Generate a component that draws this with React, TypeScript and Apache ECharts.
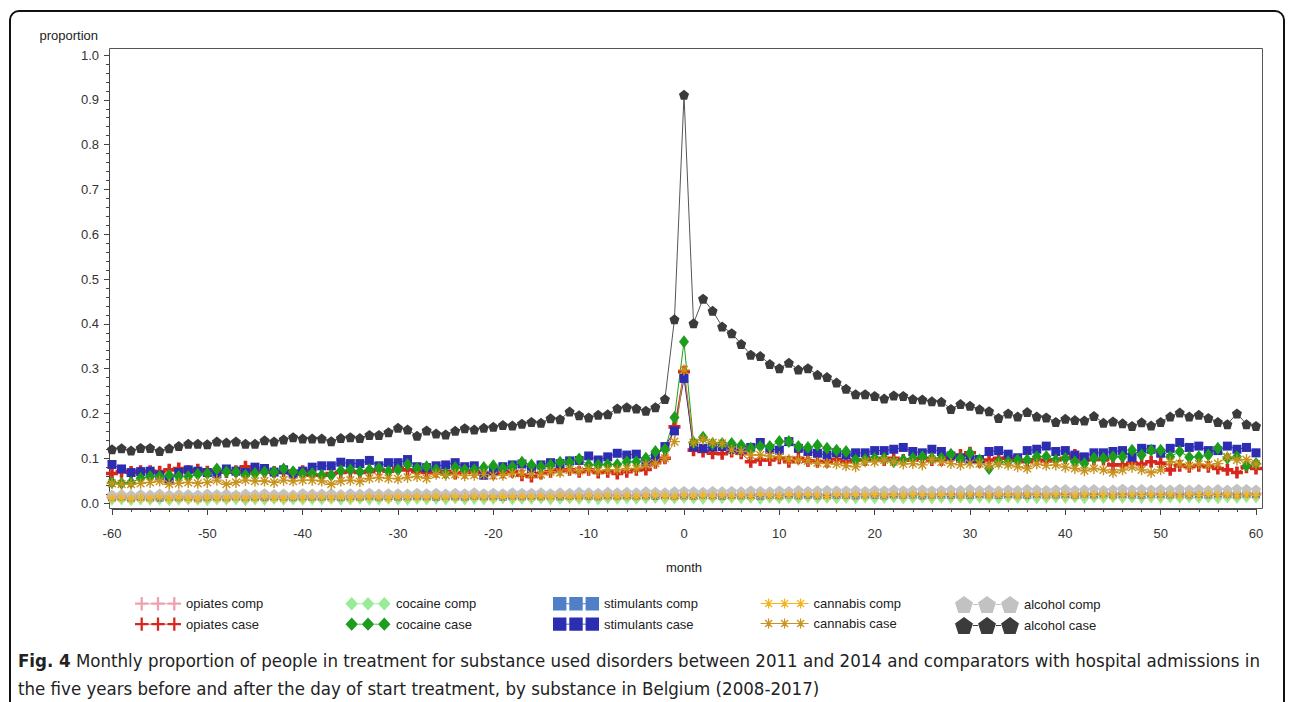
import React, { useEffect, useRef } from 'react';
import * as echarts from 'echarts';

const MONTHS = [
  -60, -59, -58, -57, -56, -55, -54, -53, -52, -51, -50,
  -49, -48, -47, -46, -45, -44, -43, -42, -41, -40, -39,
  -38, -37, -36, -35, -34, -33, -32, -31, -30, -29, -28,
  -27, -26, -25, -24, -23, -22, -21, -20, -19, -18, -17,
  -16, -15, -14, -13, -12, -11, -10, -9, -8, -7, -6,
  -5, -4, -3, -2, -1, 0, 1, 2, 3, 4, 5,
  6, 7, 8, 9, 10, 11, 12, 13, 14, 15, 16,
  17, 18, 19, 20, 21, 22, 23, 24, 25, 26, 27,
  28, 29, 30, 31, 32, 33, 34, 35, 36, 37, 38,
  39, 40, 41, 42, 43, 44, 45, 46, 47, 48, 49,
  50, 51, 52, 53, 54, 55, 56, 57, 58, 59, 60,
];

const X_TICKS = [-60, -50, -40, -30, -20, -10, 0, 10, 20, 30, 40, 50, 60];
const Y_TICKS = [0, 0.1, 0.2, 0.3, 0.4, 0.5, 0.6, 0.7, 0.8, 0.9, 1.0];

const OPI_COMP = [
  0.014, 0.013, 0.015, 0.014, 0.013, 0.015, 0.014, 0.015, 0.013, 0.014, 0.015,
  0.014, 0.015, 0.013, 0.015, 0.014, 0.016, 0.014, 0.015, 0.014, 0.016, 0.015,
  0.015, 0.016, 0.014, 0.015, 0.016, 0.015, 0.014, 0.016, 0.015, 0.016, 0.015,
  0.016, 0.015, 0.017, 0.015, 0.016, 0.017, 0.015, 0.016, 0.017, 0.016, 0.015,
  0.017, 0.016, 0.017, 0.016, 0.018, 0.016, 0.017, 0.016, 0.018, 0.017, 0.016,
  0.017, 0.018, 0.016, 0.018, 0.017, 0.018, 0.017, 0.019, 0.017, 0.018, 0.017,
  0.018, 0.017, 0.019, 0.018, 0.017, 0.019, 0.018, 0.019, 0.017, 0.018, 0.019,
  0.018, 0.019, 0.018, 0.020, 0.018, 0.019, 0.018, 0.020, 0.019, 0.018, 0.019,
  0.019, 0.018, 0.020, 0.019, 0.021, 0.019, 0.018, 0.020, 0.019, 0.020, 0.019,
  0.020, 0.019, 0.021, 0.019, 0.020, 0.019, 0.021, 0.020, 0.019, 0.021, 0.020,
  0.020, 0.021, 0.019, 0.020, 0.022, 0.020, 0.019, 0.021, 0.020, 0.019, 0.021,
];

const COC_COMP = [
  0.007, 0.008, 0.006, 0.008, 0.007, 0.008, 0.006, 0.007, 0.008, 0.007, 0.006,
  0.008, 0.007, 0.008, 0.006, 0.008, 0.007, 0.009, 0.007, 0.008, 0.007, 0.008,
  0.008, 0.009, 0.007, 0.008, 0.009, 0.007, 0.008, 0.009, 0.008, 0.007, 0.009,
  0.008, 0.009, 0.008, 0.010, 0.008, 0.009, 0.008, 0.009, 0.010, 0.008, 0.009,
  0.009, 0.010, 0.008, 0.009, 0.010, 0.009, 0.010, 0.008, 0.010, 0.009, 0.010,
  0.009, 0.010, 0.011, 0.009, 0.010, 0.011, 0.010, 0.009, 0.011, 0.010, 0.011,
  0.010, 0.011, 0.009, 0.011, 0.010, 0.011, 0.010, 0.012, 0.010, 0.011, 0.010,
  0.011, 0.010, 0.012, 0.010, 0.011, 0.012, 0.010, 0.011, 0.012, 0.010, 0.011,
  0.011, 0.012, 0.010, 0.012, 0.011, 0.010, 0.012, 0.011, 0.012, 0.010, 0.011,
  0.012, 0.011, 0.012, 0.010, 0.012, 0.011, 0.013, 0.011, 0.012, 0.011, 0.012,
  0.011, 0.012, 0.011, 0.013, 0.011, 0.012, 0.010, 0.012, 0.011, 0.013, 0.012,
];

const STIM_COMP = [
  0.013, 0.014, 0.012, 0.014, 0.013, 0.012, 0.014, 0.013, 0.014, 0.012, 0.013,
  0.014, 0.013, 0.015, 0.013, 0.014, 0.013, 0.015, 0.014, 0.013, 0.015, 0.014,
  0.014, 0.015, 0.013, 0.015, 0.014, 0.016, 0.014, 0.015, 0.014, 0.015, 0.016,
  0.015, 0.014, 0.016, 0.015, 0.014, 0.016, 0.015, 0.016, 0.014, 0.016, 0.015,
  0.016, 0.015, 0.017, 0.015, 0.016, 0.017, 0.016, 0.015, 0.017, 0.016, 0.017,
  0.016, 0.017, 0.016, 0.018, 0.016, 0.017, 0.016, 0.018, 0.017, 0.016, 0.018,
  0.017, 0.018, 0.016, 0.018, 0.017, 0.019, 0.017, 0.018, 0.017, 0.019, 0.018,
  0.018, 0.017, 0.019, 0.018, 0.017, 0.019, 0.018, 0.019, 0.017, 0.018, 0.019,
  0.018, 0.019, 0.018, 0.020, 0.019, 0.018, 0.020, 0.019, 0.018, 0.020, 0.019,
  0.019, 0.020, 0.018, 0.020, 0.019, 0.021, 0.019, 0.020, 0.019, 0.018, 0.020,
  0.020, 0.019, 0.021, 0.019, 0.020, 0.019, 0.021, 0.020, 0.019, 0.021, 0.020,
];

const CAN_COMP = [
  0.010, 0.011, 0.009, 0.011, 0.010, 0.012, 0.010, 0.011, 0.010, 0.009, 0.011,
  0.011, 0.010, 0.012, 0.010, 0.011, 0.012, 0.011, 0.010, 0.012, 0.011, 0.012,
  0.012, 0.011, 0.013, 0.011, 0.012, 0.013, 0.012, 0.011, 0.013, 0.012, 0.013,
  0.012, 0.014, 0.012, 0.013, 0.012, 0.014, 0.013, 0.012, 0.014, 0.013, 0.014,
  0.013, 0.014, 0.013, 0.015, 0.014, 0.013, 0.015, 0.014, 0.015, 0.014, 0.015,
  0.014, 0.015, 0.016, 0.015, 0.014, 0.016, 0.015, 0.016, 0.015, 0.016, 0.015,
  0.016, 0.015, 0.017, 0.016, 0.015, 0.017, 0.016, 0.017, 0.016, 0.015, 0.017,
  0.016, 0.017, 0.016, 0.018, 0.016, 0.017, 0.016, 0.018, 0.017, 0.016, 0.017,
  0.017, 0.016, 0.018, 0.017, 0.016, 0.018, 0.017, 0.016, 0.018, 0.017, 0.016,
  0.018, 0.017, 0.016, 0.018, 0.017, 0.018, 0.016, 0.017, 0.018, 0.017, 0.018,
  0.017, 0.018, 0.016, 0.018, 0.017, 0.019, 0.017, 0.018, 0.016, 0.018, 0.017,
];

const ALC_COMP = [
  0.019, 0.020, 0.018, 0.020, 0.019, 0.021, 0.019, 0.020, 0.020, 0.019, 0.021,
  0.020, 0.021, 0.019, 0.021, 0.020, 0.022, 0.020, 0.021, 0.019, 0.022, 0.021,
  0.021, 0.022, 0.020, 0.022, 0.021, 0.023, 0.021, 0.022, 0.022, 0.021, 0.023,
  0.022, 0.023, 0.021, 0.023, 0.022, 0.024, 0.022, 0.023, 0.022, 0.024, 0.023,
  0.023, 0.024, 0.022, 0.024, 0.023, 0.025, 0.024, 0.023, 0.025, 0.024, 0.025,
  0.024, 0.026, 0.025, 0.024, 0.026, 0.027, 0.026, 0.025, 0.027, 0.026, 0.027,
  0.026, 0.028, 0.027, 0.026, 0.028, 0.027, 0.029, 0.027, 0.028, 0.029, 0.028,
  0.028, 0.029, 0.027, 0.029, 0.028, 0.030, 0.028, 0.029, 0.030, 0.028, 0.029,
  0.030, 0.029, 0.031, 0.029, 0.030, 0.028, 0.030, 0.029, 0.031, 0.030, 0.029,
  0.030, 0.031, 0.029, 0.030, 0.031, 0.029, 0.030, 0.032, 0.030, 0.031, 0.030,
  0.031, 0.030, 0.032, 0.030, 0.031, 0.029, 0.031, 0.030, 0.032, 0.031, 0.030,
];

const OPI_CASE = [
  0.066, 0.070, 0.069, 0.071, 0.071, 0.070, 0.074, 0.077, 0.071, 0.074, 0.070,
  0.071, 0.069, 0.071, 0.081, 0.071, 0.070, 0.069, 0.071, 0.066, 0.071, 0.062,
  0.062, 0.066, 0.068, 0.070, 0.068, 0.070, 0.074, 0.071, 0.077, 0.074, 0.070,
  0.068, 0.070, 0.070, 0.066, 0.068, 0.070, 0.066, 0.066, 0.068, 0.070, 0.062,
  0.059, 0.066, 0.070, 0.074, 0.074, 0.070, 0.074, 0.068, 0.070, 0.066, 0.070,
  0.074, 0.075, 0.090, 0.100, 0.170, 0.293, 0.118, 0.115, 0.111, 0.110, 0.115,
  0.111, 0.092, 0.096, 0.096, 0.100, 0.092, 0.100, 0.094, 0.092, 0.092, 0.097,
  0.092, 0.096, 0.096, 0.100, 0.096, 0.100, 0.096, 0.096, 0.100, 0.096, 0.096,
  0.103, 0.107, 0.112, 0.092, 0.096, 0.100, 0.100, 0.096, 0.092, 0.096, 0.094,
  0.096, 0.100, 0.107, 0.096, 0.097, 0.097, 0.085, 0.085, 0.089, 0.087, 0.092,
  0.089, 0.074, 0.083, 0.081, 0.083, 0.081, 0.077, 0.074, 0.068, 0.080, 0.077,
];

const COC_CASE = [
  0.046, 0.044, 0.046, 0.055, 0.059, 0.059, 0.062, 0.059, 0.059, 0.064, 0.066,
  0.076, 0.070, 0.069, 0.062, 0.066, 0.069, 0.069, 0.076, 0.070, 0.066, 0.066,
  0.062, 0.062, 0.072, 0.074, 0.070, 0.074, 0.077, 0.071, 0.074, 0.086, 0.077,
  0.081, 0.074, 0.066, 0.079, 0.074, 0.074, 0.079, 0.083, 0.077, 0.081, 0.091,
  0.085, 0.081, 0.085, 0.091, 0.091, 0.098, 0.085, 0.085, 0.086, 0.086, 0.092,
  0.092, 0.100, 0.115, 0.120, 0.191, 0.360, 0.135, 0.147, 0.132, 0.133, 0.133,
  0.129, 0.122, 0.126, 0.126, 0.137, 0.137, 0.126, 0.124, 0.129, 0.122, 0.118,
  0.115, 0.096, 0.097, 0.100, 0.100, 0.092, 0.096, 0.100, 0.103, 0.100, 0.100,
  0.109, 0.100, 0.111, 0.096, 0.077, 0.092, 0.092, 0.096, 0.096, 0.103, 0.104,
  0.096, 0.100, 0.092, 0.088, 0.100, 0.100, 0.103, 0.103, 0.118, 0.107, 0.118,
  0.118, 0.103, 0.115, 0.102, 0.103, 0.107, 0.122, 0.100, 0.103, 0.083, 0.088,
];

const STIM_CASE = [
  0.086, 0.076, 0.068, 0.070, 0.071, 0.062, 0.054, 0.068, 0.074, 0.071, 0.068,
  0.065, 0.076, 0.071, 0.068, 0.080, 0.077, 0.069, 0.074, 0.065, 0.071, 0.080,
  0.083, 0.083, 0.091, 0.088, 0.088, 0.095, 0.083, 0.090, 0.090, 0.097, 0.081,
  0.079, 0.083, 0.085, 0.090, 0.081, 0.083, 0.062, 0.070, 0.081, 0.085, 0.087,
  0.077, 0.085, 0.090, 0.088, 0.094, 0.095, 0.105, 0.096, 0.103, 0.111, 0.107,
  0.109, 0.092, 0.103, 0.126, 0.161, 0.278, 0.125, 0.122, 0.125, 0.126, 0.120,
  0.118, 0.124, 0.135, 0.120, 0.118, 0.137, 0.122, 0.115, 0.111, 0.107, 0.112,
  0.107, 0.112, 0.112, 0.117, 0.117, 0.120, 0.124, 0.115, 0.112, 0.120, 0.115,
  0.105, 0.100, 0.098, 0.097, 0.115, 0.117, 0.109, 0.101, 0.117, 0.120, 0.127,
  0.115, 0.117, 0.107, 0.103, 0.112, 0.112, 0.115, 0.117, 0.102, 0.122, 0.120,
  0.111, 0.122, 0.135, 0.124, 0.127, 0.117, 0.117, 0.127, 0.120, 0.124, 0.112,
];

const CAN_CASE = [
  0.044, 0.042, 0.042, 0.044, 0.046, 0.049, 0.042, 0.044, 0.046, 0.044, 0.046,
  0.051, 0.042, 0.046, 0.051, 0.049, 0.049, 0.046, 0.051, 0.049, 0.051, 0.051,
  0.049, 0.042, 0.049, 0.051, 0.048, 0.055, 0.057, 0.055, 0.054, 0.057, 0.059,
  0.055, 0.064, 0.062, 0.064, 0.061, 0.062, 0.064, 0.061, 0.062, 0.066, 0.066,
  0.064, 0.064, 0.070, 0.068, 0.074, 0.072, 0.075, 0.072, 0.074, 0.074, 0.077,
  0.077, 0.085, 0.089, 0.100, 0.137, 0.297, 0.135, 0.142, 0.135, 0.133, 0.118,
  0.115, 0.107, 0.107, 0.105, 0.103, 0.097, 0.096, 0.094, 0.090, 0.088, 0.087,
  0.083, 0.081, 0.092, 0.092, 0.096, 0.092, 0.087, 0.088, 0.085, 0.097, 0.092,
  0.088, 0.085, 0.088, 0.088, 0.083, 0.087, 0.085, 0.081, 0.077, 0.087, 0.084,
  0.085, 0.080, 0.077, 0.072, 0.077, 0.074, 0.068, 0.074, 0.080, 0.074, 0.068,
  0.074, 0.092, 0.088, 0.083, 0.087, 0.085, 0.088, 0.103, 0.096, 0.097, 0.087,
];

const ALC_CASE = [
  0.120, 0.122, 0.117, 0.123, 0.123, 0.116, 0.122, 0.127, 0.132, 0.132, 0.131,
  0.137, 0.135, 0.137, 0.132, 0.132, 0.140, 0.137, 0.142, 0.147, 0.144, 0.144,
  0.144, 0.138, 0.145, 0.147, 0.145, 0.152, 0.152, 0.158, 0.168, 0.164, 0.150,
  0.162, 0.155, 0.153, 0.161, 0.167, 0.164, 0.168, 0.170, 0.174, 0.173, 0.177,
  0.181, 0.179, 0.189, 0.187, 0.204, 0.196, 0.191, 0.197, 0.198, 0.211, 0.214,
  0.211, 0.206, 0.214, 0.232, 0.410, 0.911, 0.401, 0.456, 0.429, 0.394, 0.379,
  0.355, 0.331, 0.328, 0.310, 0.301, 0.313, 0.298, 0.301, 0.286, 0.281, 0.269,
  0.255, 0.243, 0.243, 0.239, 0.233, 0.240, 0.239, 0.232, 0.231, 0.227, 0.226,
  0.210, 0.221, 0.217, 0.209, 0.205, 0.190, 0.200, 0.193, 0.203, 0.193, 0.191,
  0.181, 0.188, 0.185, 0.184, 0.194, 0.179, 0.182, 0.178, 0.172, 0.180, 0.173,
  0.181, 0.193, 0.202, 0.193, 0.197, 0.190, 0.181, 0.176, 0.200, 0.176, 0.172,
];

const FONT = "'Liberation Sans', Arial, Helvetica, sans-serif";
const CAPTION_FONT = "'Liberation Sans Narrow', 'DejaVu Sans Condensed', 'Liberation Sans', sans-serif";

const SYM_CROSS = 'path://M3.5,0H6.5V3.5H10V6.5H6.5V10H3.5V6.5H0V3.5H3.5Z';
const SYM_STAR = 'path://M5,0V10M0,5H10M1.5,1.5L8.5,8.5M8.5,1.5L1.5,8.5';
const SYM_PENT = 'path://M5,0L10,3.7L8.1,9.5H1.9L0,3.7Z';

const ICON_CROSS =
  'path://M5.8,0H8.2V5.8H14V8.2H8.2V14H5.8V8.2H0V5.8H5.8Z M22.8,0H25.2V5.8H31V8.2H25.2V14H22.8V8.2H17V5.8H22.8Z M39.8,0H42.2V5.8H48V8.2H42.2V14H39.8V8.2H34V5.8H39.8Z M14,6.5H17V7.5H14Z M31,6.5H34V7.5H31Z';
const ICON_DIAMOND =
  'path://M7,0L13.5,7L7,14L0.5,7Z M24,0L30.5,7L24,14L17.5,7Z M41,0L47.5,7L41,14L34.5,7Z M13.5,6.5H17.5V7.5H13.5Z M30.5,6.5H34.5V7.5H30.5Z M0,7H0.5V7H0Z M47.5,7H48V7H47.5Z';
const ICON_SQUARE =
  'path://M0,0H14V14H0Z M17,0H31V14H17Z M34,0H48V14H34Z M14,6.5H17V7.5H14Z M31,6.5H34V7.5H31Z';
const ICON_STAR =
  'path://M0,7H48 M8,2V12M3,7H13M4.5,3.5L11.5,10.5M11.5,3.5L4.5,10.5 M24,2V12M19,7H29M20.5,3.5L27.5,10.5M27.5,3.5L20.5,10.5 M40,2V12M35,7H45M36.5,3.5L43.5,10.5M43.5,3.5L36.5,10.5';
const ICON_PENT =
  'path://M9,0L18,6.5L14.6,17H3.4L0,6.5Z M32,0L41,6.5L37.6,17H26.4L23,6.5Z M55,0L64,6.5L60.6,17H49.4L46,6.5Z M18,8H23V9H18Z M41,8H46V9H41Z';

const COLORS = {
  opiComp: '#eea2ad',
  opiCase: '#d7261e',
  cocComp: '#98ec98',
  cocCase: '#1c9e1c',
  stimComp: '#4f7fc6',
  stimCase: '#2d2db2',
  canComp: '#f2b51e',
  canCase: '#c8921c',
  alcComp: '#c2c2c2',
  alcCase: '#3b3b3b',
};

function mk(
  name: string,
  values: number[],
  symbol: string,
  size: number | number[],
  color: string,
  z: number,
  lineColor?: string,
  border?: number,
) {
  return {
    name,
    type: 'line',
    data: MONTHS.map((m, i) => [m, values[i]]),
    symbol,
    symbolSize: size,
    showSymbol: true,
    lineStyle: { width: 1, color: lineColor || color },
    itemStyle: { color, borderColor: color, borderWidth: border || 0 },
    emphasis: { disabled: true },
    z,
    silent: true,
    animation: false,
  };
}

const legendText = { fontFamily: FONT, fontSize: 13, color: '#222' };

function legendBlock(left: number, top: number, width: number, height: number, gap: number, items: any[]) {
  return {
    orient: 'vertical',
    left,
    top,
    padding: 0,
    itemGap: gap,
    itemWidth: width,
    itemHeight: height,
    selectedMode: false,
    textStyle: legendText,
    data: items,
  };
}

export default function App() {
  const ref = useRef<HTMLDivElement>(null);

  useEffect(() => {
    if (!ref.current) return;
    const chart = echarts.init(ref.current, null, { renderer: 'svg' });

    const option: any = {
      animation: false,
      backgroundColor: '#ffffff',
      textStyle: { fontFamily: FONT },
      grid: { left: 112, right: 36, top: 55, bottom: 199, containLabel: false },
      xAxis: {
        type: 'value',
        min: X_TICKS[0],
        max: X_TICKS[X_TICKS.length - 1],
        interval: 10,
        offset: 6,
        name: 'month',
        nameLocation: 'middle',
        nameGap: 52,
        nameTextStyle: { fontFamily: FONT, fontSize: 13, color: '#222' },
        axisLine: { show: true, onZero: false, lineStyle: { color: '#444', width: 1 } },
        axisTick: { show: true, length: 6, lineStyle: { color: '#444' } },
        minorTick: { show: true, splitNumber: 5, length: 3, lineStyle: { color: '#444' } },
        axisLabel: { margin: 18, fontFamily: FONT, fontSize: 13, color: '#333' },
        splitLine: { show: false },
      },
      yAxis: {
        type: 'value',
        min: Y_TICKS[0],
        max: Y_TICKS[Y_TICKS.length - 1],
        interval: 0.1,
        offset: 3,
        name: 'proportion',
        nameLocation: 'end',
        nameGap: 13,
        nameTextStyle: { fontFamily: FONT, fontSize: 13, color: '#222', align: 'right', padding: [0, 11, 0, 0] },
        axisLine: { show: true, onZero: false, lineStyle: { color: '#444', width: 1 } },
        axisTick: { show: true, length: 5, lineStyle: { color: '#444' } },
        minorTick: { show: true, splitNumber: 5, length: 3, lineStyle: { color: '#444' } },
        axisLabel: {
          margin: 10,
          fontFamily: FONT,
          fontSize: 13,
          color: '#333',
          formatter: (v: number) => v.toFixed(1),
        },
        splitLine: { show: false },
      },
      legend: [
        legendBlock(135, 597, 46, 14, 7, [
          { name: 'opiates comp', icon: ICON_CROSS, itemStyle: { borderWidth: 0 } },
          { name: 'opiates case', icon: ICON_CROSS, itemStyle: { borderWidth: 0 } },
        ]),
        legendBlock(345, 597, 46, 14, 7, [
          { name: 'cocaine comp', icon: ICON_DIAMOND, itemStyle: { borderWidth: 0 } },
          { name: 'cocaine case', icon: ICON_DIAMOND, itemStyle: { borderWidth: 0 } },
        ]),
        legendBlock(553, 597, 46, 14, 7, [
          { name: 'stimulants comp', icon: ICON_SQUARE, itemStyle: { borderWidth: 0 } },
          { name: 'stimulants case', icon: ICON_SQUARE, itemStyle: { borderWidth: 0 } },
        ]),
        legendBlock(760, 597, 48, 14, 7, [
          { name: 'cannabis comp', icon: ICON_STAR, itemStyle: { borderWidth: 1.2, borderColor: COLORS.canComp } },
          { name: 'cannabis case', icon: ICON_STAR, itemStyle: { borderWidth: 1.2, borderColor: COLORS.canCase } },
        ]),
        legendBlock(955, 596, 64, 17, 4, [
          { name: 'alcohol comp', icon: ICON_PENT, itemStyle: { borderWidth: 0 } },
          { name: 'alcohol case', icon: ICON_PENT, itemStyle: { borderWidth: 0 } },
        ]),
      ],
      graphic: [
        {
          type: 'rect',
          silent: true,
          z: 0,
          shape: { x: 109.5, y: 48.5, width: 1153, height: 460 },
          style: { fill: 'none', stroke: '#555', lineWidth: 1 },
        },
        {
          type: 'rect',
          silent: true,
          z: 0,
          shape: { x: 10, y: 11, width: 1274, height: 720, r: 9 },
          style: { fill: 'none', stroke: '#111', lineWidth: 2 },
        },
        {
          type: 'text',
          silent: true,
          x: 18,
          y: 660,
          style: {
            text: '{b|Fig. 4} Monthly proportion of people in treatment for substance used disorders between 2011 and 2014 and comparators with hospital admissions in',
            fontFamily: CAPTION_FONT,
            fontSize: 18.5,
            fill: '#222',
            verticalAlign: 'middle',
            rich: {
              b: { fontFamily: CAPTION_FONT, fontSize: 18.5, fontWeight: 'bold', fill: '#222' },
            },
          },
        },
        {
          type: 'text',
          silent: true,
          x: 18,
          y: 688,
          style: {
            text: 'the five years before and after the day of start treatment, by substance in Belgium (2008-2017)',
            fontFamily: CAPTION_FONT,
            fontSize: 18.5,
            fill: '#222',
            verticalAlign: 'middle',
          },
        },
      ],
      series: [
        mk('opiates comp', OPI_COMP, SYM_CROSS, 11, COLORS.opiComp, 2),
        mk('cocaine comp', COC_COMP, 'diamond', [9, 12], COLORS.cocComp, 2),
        mk('stimulants comp', STIM_COMP, 'rect', 8, COLORS.stimComp, 2),
        mk('alcohol comp', ALC_COMP, SYM_PENT, 10, COLORS.alcComp, 2),
        mk('cannabis comp', CAN_COMP, SYM_STAR, 10, COLORS.canComp, 2, undefined, 1.3),
        mk('opiates case', OPI_CASE, SYM_CROSS, 12, COLORS.opiCase, 3),
        mk('stimulants case', STIM_CASE, 'rect', 9, COLORS.stimCase, 3),
        mk('cocaine case', COC_CASE, 'diamond', [10, 13], COLORS.cocCase, 3),
        mk('cannabis case', CAN_CASE, SYM_STAR, 11, COLORS.canCase, 3, undefined, 1.4),
        mk('alcohol case', ALC_CASE, SYM_PENT, 10, COLORS.alcCase, 4, '#555555'),
      ],
    };

    chart.setOption(option);
    return () => chart.dispose();
  }, []);

  return (
    <div
      ref={ref}
      style={{ position: 'fixed', left: 0, top: 0, width: 1292, height: 702, background: '#ffffff' }}
    />
  );
}
